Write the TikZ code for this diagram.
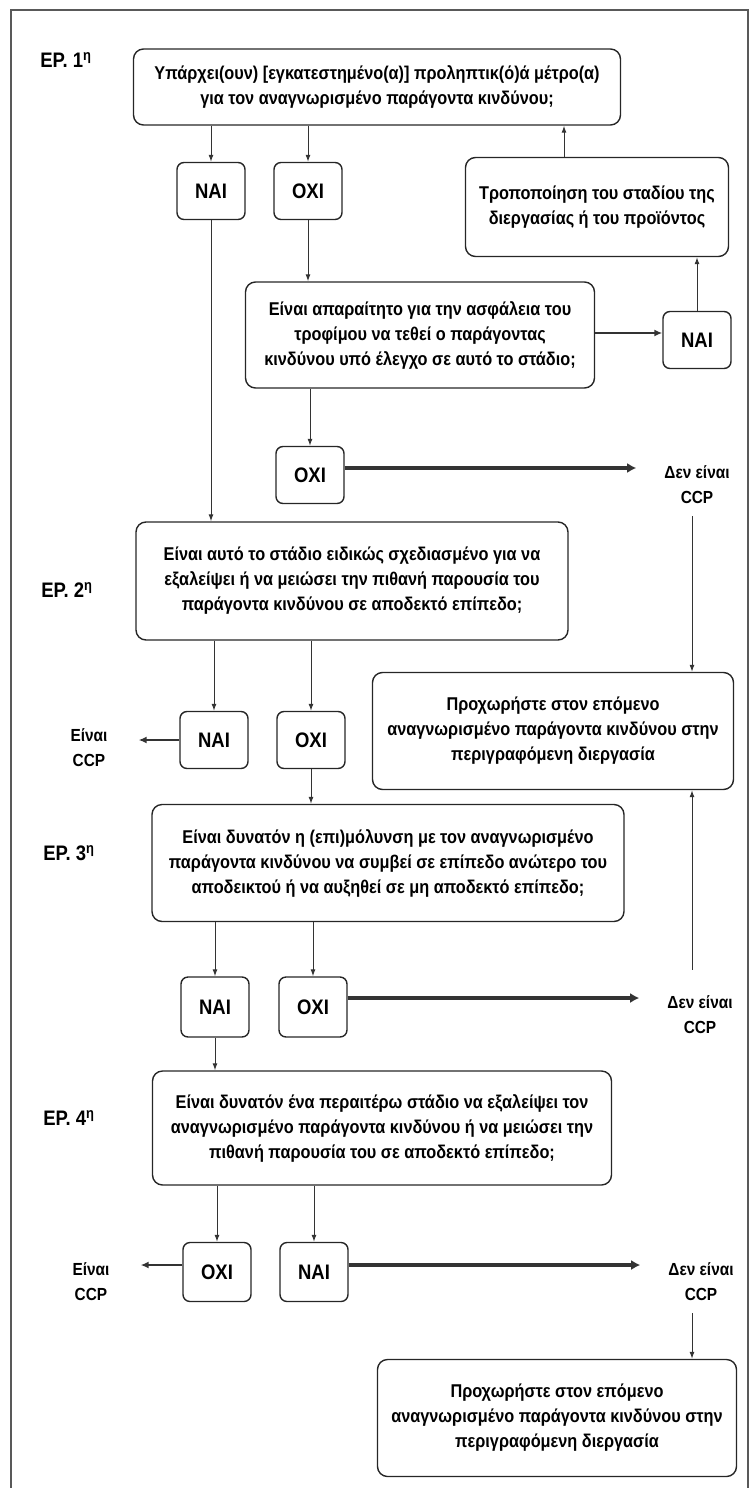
\documentclass[tikz,border=0pt]{standalone}
\usepackage{fontspec}
\setmainfont{Liberation Sans}[FakeStretch=0.88]
\usetikzlibrary{arrows.meta}
\begin{document}
\begin{tikzpicture}[x=1pt,y=-1pt,
  box/.style={draw=black!85, line width=1.4pt, rounded corners=10pt, align=center,
    inner sep=0pt, text=black, font=\bfseries\fontsize{18.5}{25}\selectfont},
  yn/.style={draw=black!85, line width=1.4pt, rounded corners=7pt, minimum width=68pt,
    minimum height=57pt, inner sep=0pt, text=black, font=\bfseries\fontsize{21}{22}\selectfont},
  lbl/.style={align=center, inner sep=0pt, text=black, font=\bfseries\fontsize{17.5}{25}\selectfont},
  eplbl/.style={inner sep=0pt, text=black, font=\bfseries\fontsize{21}{22}\selectfont},
  arr/.style={draw=black!80, line width=1pt, -{Latex[length=7pt,width=5pt]}},
  tarr/.style={draw=black!80, line width=3.5pt, -{Latex[length=9pt,width=10pt]}},
  sarr/.style={draw=black!80, line width=2pt, -{Latex[length=8pt,width=7pt]}}
]
\useasboundingbox (0,0) rectangle (750,1488);
\draw[line width=1.2pt, black!65] (11,1488) -- (11,10) -- (748,10) -- (748,1488);

% labels
\node[eplbl] (ep1) at (66,60) {ΕΡ. 1\textsuperscript{η}};
\node[eplbl] (ep2) at (67,590) {ΕΡ. 2\textsuperscript{η}};
\node[eplbl] (ep3) at (69,853) {ΕΡ. 3\textsuperscript{η}};
\node[eplbl] (ep4) at (69,1118) {ΕΡ. 4\textsuperscript{η}};

% step 1
\node[box, minimum width=487pt, minimum height=76pt] (box1) at (377,87)
  {Υπάρχει(ουν) [εγκατεστημένο(α)] προληπτικ(ό)ά μέτρο(α)\\για τον αναγνωρισμένο παράγοντα κινδύνου;};
\node[yn] (nai1) at (211,191) {ΝΑΙ};
\node[yn] (oxi1) at (308,191) {ΟΧΙ};
\node[box, minimum width=263pt, minimum height=99pt] (trop) at (597,207)
  {Τροποποίηση του σταδίου της\\διεργασίας ή του προϊόντος};
\node[box, minimum width=349pt, minimum height=106pt] (box2) at (420,335)
  {Είναι απαραίτητο για την ασφάλεια του\\τροφίμου να τεθεί ο παράγοντας\\κινδύνου υπό έλεγχο σε αυτό το στάδιο;};
\node[yn] (nai2) at (697,340) {ΝΑΙ};
\node[yn] (oxi2) at (310,475) {ΟΧΙ};
\node[lbl] (ccp1) at (697,485) {Δεν είναι\\CCP};

% step 2
\node[box, minimum width=432pt, minimum height=118pt] (box3) at (352,581)
  {Είναι αυτό το στάδιο ειδικώς σχεδιασμένο για να\\εξαλείψει ή να μειώσει την πιθανή παρουσία του\\παράγοντα κινδύνου σε αποδεκτό επίπεδο;};
\node[box, minimum width=361pt, minimum height=117pt] (proch1) at (553,731)
  {Προχωρήστε στον επόμενο\\αναγνωρισμένο παράγοντα κινδύνου στην\\περιγραφόμενη διεργασία};
\node[yn] (nai3) at (214,740) {ΝΑΙ};
\node[yn] (oxi3) at (311,740) {ΟΧΙ};
\node[lbl] (yes1) at (89,748) {Είναι\\CCP};

% step 3
\node[box, minimum width=472pt, minimum height=117pt] (box4) at (388,863)
  {Είναι δυνατόν η (επι)μόλυνση με τον αναγνωρισμένο\\παράγοντα κινδύνου να συμβεί σε επίπεδο ανώτερο του\\αποδεικτού ή να αυξηθεί σε μη αποδεκτό επίπεδο;};
\node[yn, minimum height=60pt] (nai4) at (215,1007) {ΝΑΙ};
\node[yn, minimum height=60pt] (oxi4) at (313,1007) {ΟΧΙ};
\node[lbl] (ccp2) at (700,1015) {Δεν είναι\\CCP};

% step 4
\node[box, minimum width=459pt, minimum height=114pt] (box5) at (382,1128)
  {Είναι δυνατόν ένα περαιτέρω στάδιο να εξαλείψει τον\\αναγνωρισμένο παράγοντα κινδύνου ή να μειώσει την\\πιθανή παρουσία του σε αποδεκτό επίπεδο;};
\node[yn, minimum height=59pt] (oxi5) at (217,1272) {ΟΧΙ};
\node[yn, minimum height=59pt] (nai5) at (314,1272) {ΝΑΙ};
\node[lbl] (yes2) at (91,1282) {Είναι\\CCP};
\node[lbl] (ccp3) at (701,1282) {Δεν είναι\\CCP};
\node[box, minimum width=359pt, minimum height=117pt] (proch2) at (557,1418)
  {Προχωρήστε στον επόμενο\\αναγνωρισμένο παράγοντα κινδύνου στην\\περιγραφόμενη διεργασία};

\coordinate (c1) at (564,0);
\coordinate (c2) at (692,0);

% connectors step 1
\draw[arr] (box1.south -| nai1) -- (nai1.north);
\draw[arr] (box1.south -| oxi1) -- (oxi1.north);
\draw[arr] (trop.north -| c1) -- (box1.south -| c1);
\draw[sarr] (box2.east |- 0,333) -- (nai2.west |- 0,333);
\draw[arr] (nai2.north) -- (nai2.north |- trop.south);
\draw[arr] (oxi1.south) -- (oxi1.south |- box2.north);
\draw[arr] (box2.south -| oxi2) -- (oxi2.north);
\draw[tarr, shorten >=28pt] (oxi2.east |- 0,468) -- (ccp1.west |- 0,468);
\draw[arr] (nai1.south) -- (nai1.south |- box3.north);
\draw[arr] (ccp1.south -| c2) ++(0,12) -- (proch1.north -| c2);

% step 2
\draw[arr] (box3.south -| nai3) -- (nai3.north);
\draw[arr] (box3.south -| oxi3) -- (oxi3.north);
\draw[sarr, shorten >=31pt] (nai3.west) -- (yes1.east |- nai3.west);
\draw[arr] (oxi3.south) -- (oxi3.south |- box4.north);

% step 3
\draw[arr] (box4.south -| nai4) -- (nai4.north);
\draw[arr] (box4.south -| oxi4) -- (oxi4.north);
\draw[tarr, shorten >=28pt] (oxi4.east |- 0,998) -- (ccp2.west |- 0,998);
\draw[arr] (ccp2.north -| c2) ++(0,-26) -- (proch1.south -| c2);
\draw[arr] (nai4.south) -- (nai4.south |- box5.north);

% step 4
\draw[arr] (box5.south -| oxi5) -- (oxi5.north);
\draw[arr] (box5.south -| nai5) -- (nai5.north);
\draw[sarr, shorten >=31pt] (oxi5.west |- 0,1265) -- (yes2.east |- 0,1265);
\draw[tarr, shorten >=28pt] (nai5.east |- 0,1265) -- (ccp3.west |- 0,1265);
\draw[arr] (ccp3.south -| c2) ++(0,12) -- (proch2.north -| c2);
\end{tikzpicture}
\end{document}
